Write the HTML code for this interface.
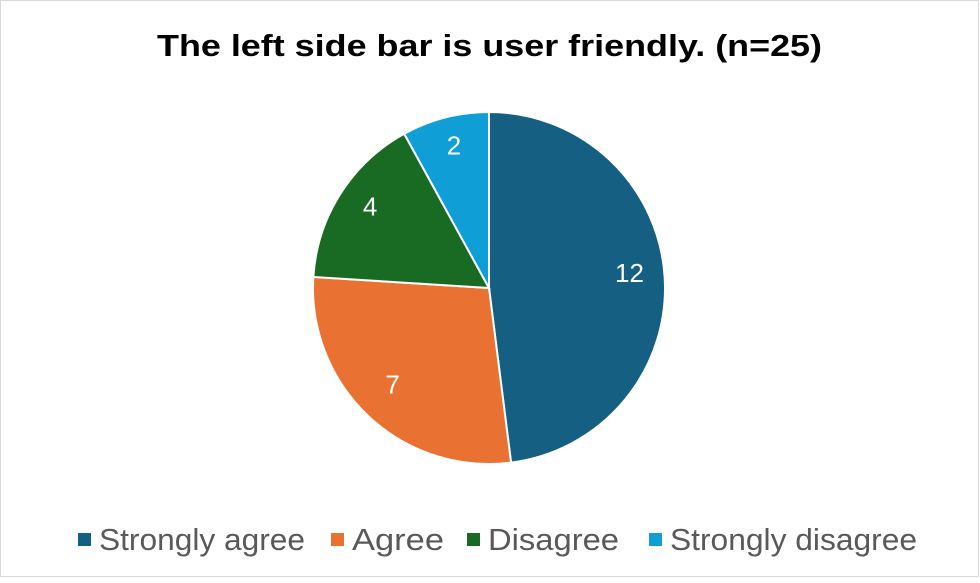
<!DOCTYPE html>
<html><head><meta charset="utf-8"><style>
html,body{margin:0;padding:0;background:#fff;}
#chart{position:relative;width:980px;height:578px;}
svg text{font-family:"Liberation Sans",Arial,sans-serif;}
</style></head><body>
<div id="chart">
<svg id="svg" width="980" height="578" viewBox="0 0 980 578">
<rect x="0.5" y="0.5" width="978" height="576" fill="#fff" stroke="#d9d9d9"/>
<text x="157" y="56" font-size="31" font-weight="bold" fill="#000" textLength="665" lengthAdjust="spacingAndGlyphs">The left side bar is user friendly. (n=25)</text>
<g id="slices"></g>
<g id="labels"></g>
<g id="legend"></g>
</svg>
</div>
<script>
const categories=["Strongly agree","Agree","Disagree","Strongly disagree"];
const values=[12,7,4,2];
const colors=["#156082","#E97132","#196B24","#0F9ED5"];
const NS="http://www.w3.org/2000/svg";
const cx=489,cy=288,r=176;
const total=values.reduce((a,b)=>a+b,0);
const sg=document.getElementById('slices'),lg=document.getElementById('labels'),leg=document.getElementById('legend');
let a0=-Math.PI/2;
values.forEach((v,i)=>{
  const a1=a0+v/total*2*Math.PI;
  const x0=cx+r*Math.cos(a0),y0=cy+r*Math.sin(a0),x1=cx+r*Math.cos(a1),y1=cy+r*Math.sin(a1);
  const p=document.createElementNS(NS,'path');
  p.setAttribute('d',`M${cx},${cy}L${x0},${y0}A${r},${r} 0 ${a1-a0>Math.PI?1:0} 1 ${x1},${y1}Z`);
  p.setAttribute('fill',colors[i]);p.setAttribute('stroke','#fff');p.setAttribute('stroke-width','2');
  
  
  sg.appendChild(p);
  const am=(a0+a1)/2,lr=r*0.8;
  const t=document.createElementNS(NS,'text');
  t.setAttribute('x',cx+lr*Math.cos(am));t.setAttribute('y',cy+lr*Math.sin(am)+3);
  t.setAttribute('text-anchor','middle');t.setAttribute('font-size','26');t.setAttribute('fill','#fff');
  t.textContent=v;
  
  
  lg.appendChild(t);
  a0=a1;
});
const legX=[78,331,467,649];
const legW=[206,92,131,247];
categories.forEach((c,i)=>{
  const g=document.createElementNS(NS,'g');
  
  
  const s=document.createElementNS(NS,'rect');
  s.setAttribute('x',legX[i]);s.setAttribute('y',533);s.setAttribute('width',13);s.setAttribute('height',13);s.setAttribute('fill',colors[i]);
  const t=document.createElementNS(NS,'text');
  t.setAttribute('x',legX[i]+21);t.setAttribute('y',550);t.setAttribute('font-size','31');t.setAttribute('fill','#595959');
  t.setAttribute('textLength',legW[i]);t.setAttribute('lengthAdjust','spacingAndGlyphs');
  t.textContent=c;
  g.appendChild(s);g.appendChild(t);leg.appendChild(g);
});
</script>
</body></html>
